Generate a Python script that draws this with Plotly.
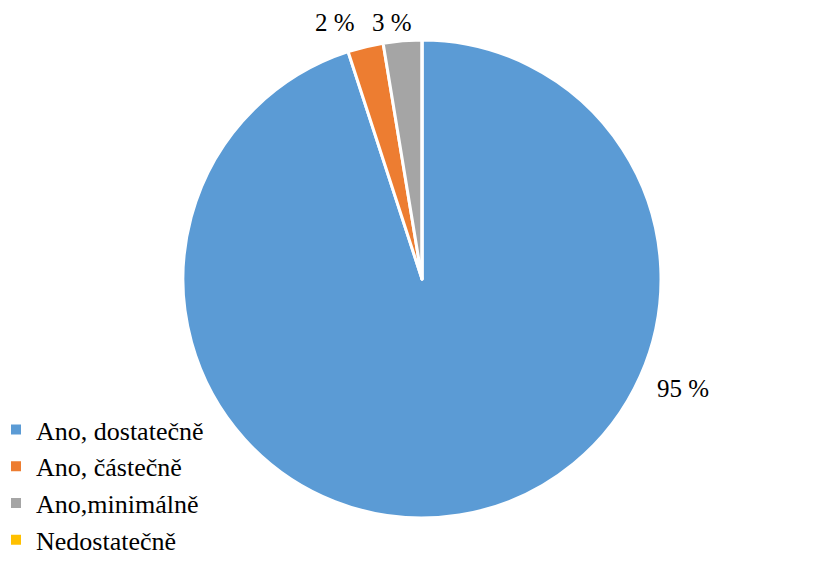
import plotly.graph_objects as go

categories = ["Ano, dostatečně", "Ano, částečně", "Ano,minimálně", "Nedostatečně"]
values = [95.0, 2.4, 2.6, 0.0]
colors = ["#5B9BD5", "#ED7D31", "#A5A5A5", "#FFC000"]
label_text = [f"{round(v)} %" for v in values]

# invisible trailing padding to mimic the wider spacing between legend entries
legend_pad = [1, 1, 1, 0]
legend_labels = [c + "\u00a0" * n for c, n in zip(categories, legend_pad)]

W, H = 833, 564
cx, cy, r = 422, 279, 239

fig = go.Figure()
fig.add_trace(go.Pie(
    labels=legend_labels,
    values=values,
    customdata=categories,
    sort=False,
    direction="clockwise",
    rotation=0,
    marker=dict(colors=colors, line=dict(color="white", width=3)),
    textinfo="none",
    hovertemplate="%{customdata}: %{percent}<extra></extra>",
    domain=dict(x=[(cx - r) / W, (cx + r) / W], y=[1 - (cy + r) / H, 1 - (cy - r) / H]),
    showlegend=True,
))

font = dict(family="Liberation Serif", size=25, color="black")
# label positions (pixel coordinates of the reference label centres)
label_pos = [(683, 388), (335, 22), (392, 22)]
for txt, (px, py) in zip(label_text[:3], label_pos):
    fig.add_annotation(x=px / W, y=1 - py / H, xref="paper", yref="paper",
                       text=txt, showarrow=False, font=font,
                       xanchor="center", yanchor="middle")

fig.update_layout(
    width=W, height=H,
    margin=dict(l=0, r=0, t=0, b=0, autoexpand=False),
    paper_bgcolor="white", plot_bgcolor="white",
    font=font,
    legend=dict(orientation="h", x=-4 / W, xanchor="left", y=0.0, yanchor="bottom",
                font=dict(family="Liberation Serif", size=26, color="black"),
                itemsizing="constant", traceorder="normal", itemwidth=30),
)
fig.write_html("out.html", config={"displayModeBar": False},
               post_script="document.body.style.margin='0';")
